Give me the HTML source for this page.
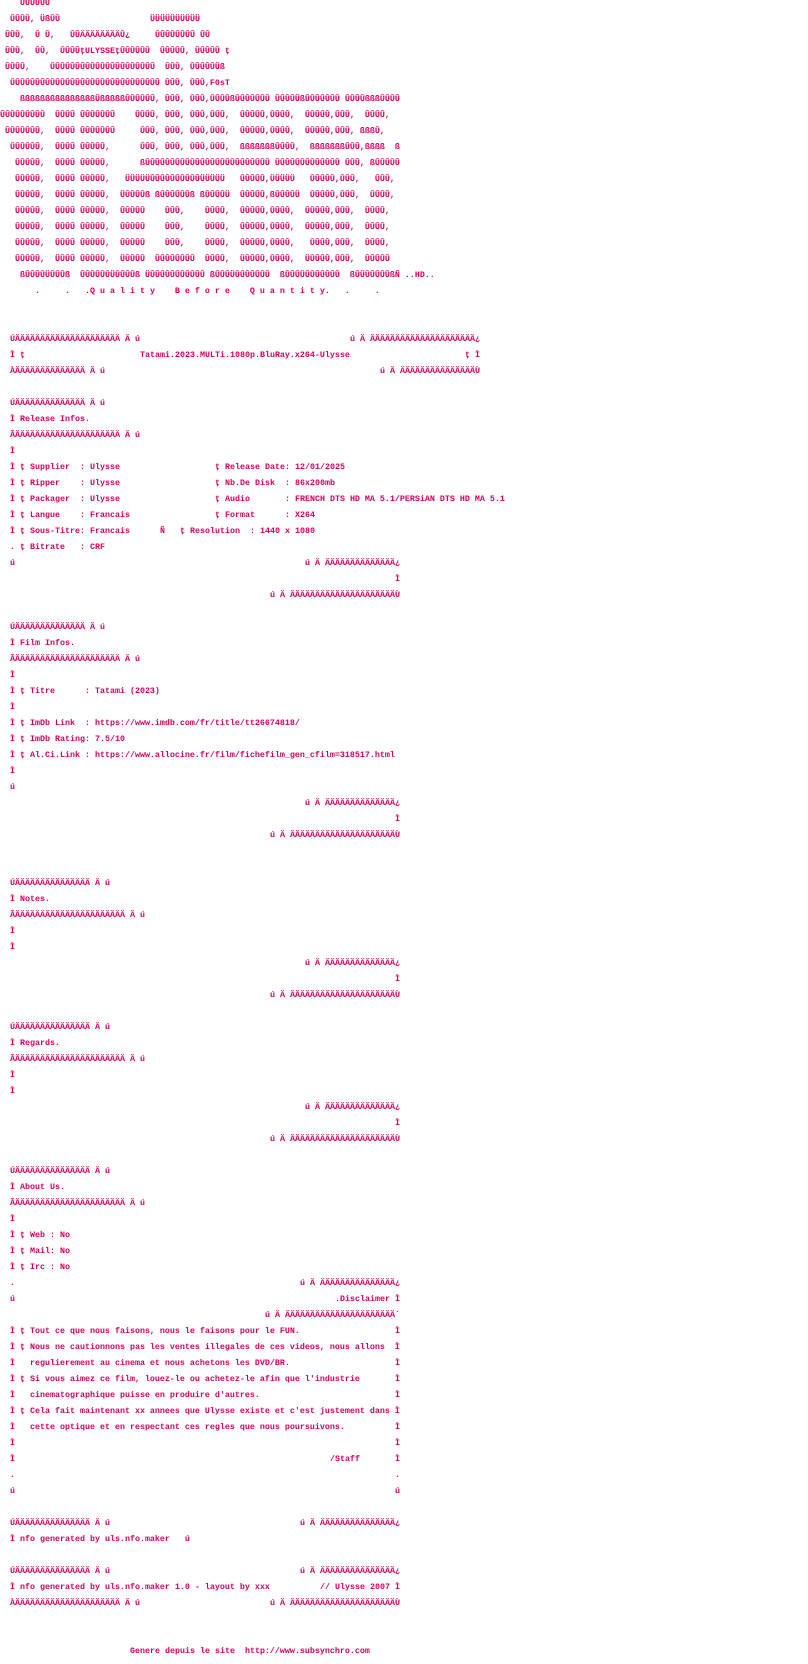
<!DOCTYPE html>
<html><head><meta charset="utf-8">
<style>
html,body{margin:0;padding:0;background:#fff;}
body{width:808px;height:1664px;position:relative;overflow:hidden;}
.l{position:absolute;white-space:pre;font-family:"Liberation Mono",monospace;font-size:8.333px;font-weight:bold;line-height:16px;color:#d3005a;top:calc(var(--r)*16px - 5px);left:calc(var(--c)*5px);}
</style></head><body>
<div class="l" style="--r:0;--c:4">ÛÛÛÛÛÛ</div>
<div class="l" style="--r:1;--c:2">ÛÛÛÛ, ÜßÛÛ</div><div class="l" style="--r:1;--c:30">ÜÜÜÜÜÜÜÜÜÜ</div>
<div class="l" style="--r:2;--c:1">ÛÛÛ,  Û Û,   ÛÛÄÄÄÄÄÄÄÄÛ¿</div><div class="l" style="--r:2;--c:31">ÛÛÛÛÛÛÛÛ ÛÛ</div>
<div class="l" style="--r:3;--c:1">ÛÛÛ,  ÛÛ,  ÛÛÛÛţULYSSEţÛÛÛÛÛÛ  ÛÛÛÛÛ, ÛÛÛÛÛ ţ</div>
<div class="l" style="--r:4;--c:1">ÛÛÛÛ,</div><div class="l" style="--r:4;--c:10">ÛÛÛÛÛÛÛÛÛÛÛÛÛÛÛÛÛÛÛÛÛ  ÛÛÛ, ÛÛÛÛÛÛß</div>
<div class="l" style="--r:5;--c:2">ÛÛÛÛÛÛÛÛÛÛÛÛÛÛÛÛÛÛÛÛÛÛÛÛÛÛÛÛÛÛ ÛÛÛ, ÛÛÛ,F0sT</div>
<div class="l" style="--r:6;--c:4">ßßßßßßßßßßßßßßßÛßßßßßÛÛÛÛÛÛ, ÛÛÛ, ÛÛÛ,ÛÛÛÛßÛÛÛÛÛÛÛ ÛÛÛÛÛßÛÛÛÛÛÛÛ ÛÛÛÛßßßÛÛÛÛ</div>
<div class="l" style="--r:7;--c:0">ÛÛÛÛÛÛÛÛÛ  ÛÛÛÛ ÛÛÛÛÛÛÛ    ÛÛÛÛ, ÛÛÛ, ÛÛÛ,ÛÛÛ,  ÛÛÛÛÛ,ÛÛÛÛ,  ÛÛÛÛÛ,ÛÛÛ,  ÛÛÛÛ,</div>
<div class="l" style="--r:8;--c:1">ÛÛÛÛÛÛÛ,  ÛÛÛÛ ÛÛÛÛÛÛÛ     ÛÛÛ, ÛÛÛ, ÛÛÛ,ÛÛÛ,  ÛÛÛÛÛ,ÛÛÛÛ,  ÛÛÛÛÛ,ÛÛÛ, ßßßÛ,</div>
<div class="l" style="--r:9;--c:2">ÛÛÛÛÛÛ,  ÛÛÛÛ ÛÛÛÛÛ,      ÛÛÛ, ÛÛÛ, ÛÛÛ,ÛÛÛ,  ßßßßßßßÛÛÛÛ,  ßßßßßßßÛÛÛ,ßßßß  ß</div>
<div class="l" style="--r:10;--c:3">ÛÛÛÛÛ,  ÛÛÛÛ ÛÛÛÛÛ,      ßÛÛÛÛÛÛÛÛÛÛÛÛÛÛÛÛÛÛÛÛÛÛÛÛÛ ÛÛÛÛÛÛÛÛÛÛÛÛÛ ÛÛÛ, ßÛÛÛÛÛ</div>
<div class="l" style="--r:11;--c:3">ÛÛÛÛÛ,  ÛÛÛÛ ÛÛÛÛÛ,   ÜÜÜÜÜÛÛÛÛÛÛÛÛÛÛÜÜÜÜÜ   ÛÛÛÛÛ,ÜÜÜÜÜ   ÛÛÛÛÛ,ÛÛÛ,   ÛÛÛ,</div>
<div class="l" style="--r:12;--c:3">ÛÛÛÛÛ,  ÛÛÛÛ ÛÛÛÛÛ,  ÜÛÛÛÛß ßÛÛÛÛÛÛß ßÛÛÛÛÜ  ÛÛÛÛÛ,ßÛÛÛÛÜ  ÛÛÛÛÛ,ÛÛÛ,  ÛÛÛÛ,</div>
<div class="l" style="--r:13;--c:3">ÛÛÛÛÛ,  ÛÛÛÛ ÛÛÛÛÛ,  ÛÛÛÛÛ    ÛÛÛ,    ÛÛÛÛ,  ÛÛÛÛÛ,ÛÛÛÛ,  ÛÛÛÛÛ,ÛÛÛ,  ÛÛÛÛ,</div>
<div class="l" style="--r:14;--c:3">ÛÛÛÛÛ,  ÛÛÛÛ ÛÛÛÛÛ,  ÛÛÛÛÛ    ÛÛÛ,    ÛÛÛÛ,  ÛÛÛÛÛ,ÛÛÛÛ,  ÛÛÛÛÛ,ÛÛÛ,  ÛÛÛÛ,</div>
<div class="l" style="--r:15;--c:3">ÛÛÛÛÛ,  ÛÛÛÛ ÛÛÛÛÛ,  ÛÛÛÛÛ    ÛÛÛ,    ÛÛÛÛ,  ÛÛÛÛÛ,ÛÛÛÛ,   ÛÛÛÛ,ÛÛÛ,  ÛÛÛÛ,</div>
<div class="l" style="--r:16;--c:3">ÛÛÛÛÛ,  ÜÛÛÛ ÛÛÛÛÛ,  ÜÛÛÛÛ  ÛÛÛÛÛÛÛÛ  ÛÛÛÛ,  ÜÛÛÛÛ,ÛÛÛÛ,  ÜÛÛÛÛ,ÛÛÛ,  ÛÛÛÛÛ</div>
<div class="l" style="--r:17;--c:4">ßÛÛÛÛÜÛÛÛß  ÛÛÛÛÛÛÜÛÛÛÛß ÜÛÛÛÛÛÛÛÛÛÛÛ ßÛÛÛÜÛÛÛÛÛÛÛ  ßÛÛÛÜÛÛÛÛÛÛÛ  ßÛÜÛÛÛÛÛßÑ ..HD..</div>
<div class="l" style="--r:18;--c:7">.     .   .Q u a l i t y    B e f o r e    Q u a n t i t y.   .     .</div>

<div class="l" style="--r:21;--c:2">ÚÄÄÄÄÄÄÄÄÄÄÄÄÄÄÄÄÄÄÄÄÄ Ä ú</div><div class="l" style="--r:21;--c:70">ú Ä ÄÄÄÄÄÄÄÄÄÄÄÄÄÄÄÄÄÄÄÄÄ¿</div>
<div class="l" style="--r:22;--c:2">Ì ţ</div><div class="l" style="--r:22;--c:28">Tatami.2023.MULTi.1080p.BluRay.x264-Ulysse</div><div class="l" style="--r:22;--c:93">ţ Ì</div>
<div class="l" style="--r:23;--c:2">ÀÄÄÄÄÄÄÄÄÄÄÄÄÄÄ Ä ú</div><div class="l" style="--r:23;--c:76">ú Ä ÄÄÄÄÄÄÄÄÄÄÄÄÄÄÄÙ</div>

<div class="l" style="--r:25;--c:2">ÚÄÄÄÄÄÄÄÄÄÄÄÄÄÄ Ä ú</div>
<div class="l" style="--r:26;--c:2">Ì Release Infos.</div>
<div class="l" style="--r:27;--c:2">ÃÄÄÄÄÄÄÄÄÄÄÄÄÄÄÄÄÄÄÄÄÄ Ä ú</div>
<div class="l" style="--r:28;--c:2">Ì</div>
<div class="l" style="--r:29;--c:2">Ì ţ Supplier  : Ulysse</div><div class="l" style="--r:29;--c:43">ţ Release Date: 12/01/2025</div>
<div class="l" style="--r:30;--c:2">Ì ţ Ripper    : Ulysse</div><div class="l" style="--r:30;--c:43">ţ Nb.De Disk  : 86x200mb</div>
<div class="l" style="--r:31;--c:2">Ì ţ Packager  : Ulysse</div><div class="l" style="--r:31;--c:43">ţ Audio       : FRENCH DTS HD MA 5.1/PERSiAN DTS HD MA 5.1</div>
<div class="l" style="--r:32;--c:2">Ì ţ Langue    : Francais</div><div class="l" style="--r:32;--c:43">ţ Format      : X264</div>
<div class="l" style="--r:33;--c:2">Ì ţ Sous-Titre: Francais</div><div class="l" style="--r:33;--c:32">Ñ</div><div class="l" style="--r:33;--c:36">ţ Resolution  : 1440 x 1080</div>
<div class="l" style="--r:34;--c:2">. ţ Bitrate   : CRF</div>
<div class="l" style="--r:35;--c:2">ú</div><div class="l" style="--r:35;--c:61">ú Ä ÄÄÄÄÄÄÄÄÄÄÄÄÄÄ¿</div>
<div class="l" style="--r:36;--c:79">Ì</div>
<div class="l" style="--r:37;--c:54">ú Ä ÄÄÄÄÄÄÄÄÄÄÄÄÄÄÄÄÄÄÄÄÄÙ</div>

<div class="l" style="--r:39;--c:2">ÚÄÄÄÄÄÄÄÄÄÄÄÄÄÄ Ä ú</div>
<div class="l" style="--r:40;--c:2">Ì Film Infos.</div>
<div class="l" style="--r:41;--c:2">ÃÄÄÄÄÄÄÄÄÄÄÄÄÄÄÄÄÄÄÄÄÄ Ä ú</div>
<div class="l" style="--r:42;--c:2">Ì</div>
<div class="l" style="--r:43;--c:2">Ì ţ Titre      : Tatami (2023)</div>
<div class="l" style="--r:44;--c:2">Ì</div>
<div class="l" style="--r:45;--c:2">Ì ţ ImDb Link  : https://www.imdb.com/fr/title/tt26674818/</div>
<div class="l" style="--r:46;--c:2">Ì ţ ImDb Rating: 7.5/10</div>
<div class="l" style="--r:47;--c:2">Ì ţ Al.Ci.Link : https://www.allocine.fr/film/fichefilm_gen_cfilm=318517.html</div>
<div class="l" style="--r:48;--c:2">Ì</div>
<div class="l" style="--r:49;--c:2">ú</div>
<div class="l" style="--r:50;--c:61">ú Ä ÄÄÄÄÄÄÄÄÄÄÄÄÄÄ¿</div>
<div class="l" style="--r:51;--c:79">Ì</div>
<div class="l" style="--r:52;--c:54">ú Ä ÄÄÄÄÄÄÄÄÄÄÄÄÄÄÄÄÄÄÄÄÄÙ</div>

<div class="l" style="--r:55;--c:2">ÚÄÄÄÄÄÄÄÄÄÄÄÄÄÄÄ Ä ú</div>
<div class="l" style="--r:56;--c:2">Ì Notes.</div>
<div class="l" style="--r:57;--c:2">ÃÄÄÄÄÄÄÄÄÄÄÄÄÄÄÄÄÄÄÄÄÄÄ Ä ú</div>
<div class="l" style="--r:58;--c:2">Ì</div>
<div class="l" style="--r:59;--c:2">Ì</div>
<div class="l" style="--r:60;--c:61">ú Ä ÄÄÄÄÄÄÄÄÄÄÄÄÄÄ¿</div>
<div class="l" style="--r:61;--c:79">Ì</div>
<div class="l" style="--r:62;--c:54">ú Ä ÄÄÄÄÄÄÄÄÄÄÄÄÄÄÄÄÄÄÄÄÄÙ</div>

<div class="l" style="--r:64;--c:2">ÚÄÄÄÄÄÄÄÄÄÄÄÄÄÄÄ Ä ú</div>
<div class="l" style="--r:65;--c:2">Ì Regards.</div>
<div class="l" style="--r:66;--c:2">ÃÄÄÄÄÄÄÄÄÄÄÄÄÄÄÄÄÄÄÄÄÄÄ Ä ú</div>
<div class="l" style="--r:67;--c:2">Ì</div>
<div class="l" style="--r:68;--c:2">Ì</div>
<div class="l" style="--r:69;--c:61">ú Ä ÄÄÄÄÄÄÄÄÄÄÄÄÄÄ¿</div>
<div class="l" style="--r:70;--c:79">Ì</div>
<div class="l" style="--r:71;--c:54">ú Ä ÄÄÄÄÄÄÄÄÄÄÄÄÄÄÄÄÄÄÄÄÄÙ</div>

<div class="l" style="--r:73;--c:2">ÚÄÄÄÄÄÄÄÄÄÄÄÄÄÄÄ Ä ú</div>
<div class="l" style="--r:74;--c:2">Ì About Us.</div>
<div class="l" style="--r:75;--c:2">ÃÄÄÄÄÄÄÄÄÄÄÄÄÄÄÄÄÄÄÄÄÄÄ Ä ú</div>
<div class="l" style="--r:76;--c:2">Ì</div>
<div class="l" style="--r:77;--c:2">Ì ţ Web : No</div>
<div class="l" style="--r:78;--c:2">Ì ţ Mail: No</div>
<div class="l" style="--r:79;--c:2">Ì ţ Irc : No</div>
<div class="l" style="--r:80;--c:2">.</div><div class="l" style="--r:80;--c:60">ú Ä ÄÄÄÄÄÄÄÄÄÄÄÄÄÄÄ¿</div>
<div class="l" style="--r:81;--c:2">ú</div><div class="l" style="--r:81;--c:67">.Disclaimer Ì</div>
<div class="l" style="--r:82;--c:53">ú Ä ÄÄÄÄÄÄÄÄÄÄÄÄÄÄÄÄÄÄÄÄÄÄ´</div>
<div class="l" style="--r:83;--c:2">Ì ţ Tout ce que nous faisons, nous le faisons pour le FUN.</div><div class="l" style="--r:83;--c:79">Ì</div>
<div class="l" style="--r:84;--c:2">Ì ţ Nous ne cautionnons pas les ventes illegales de ces videos, nous allons  Ì</div>
<div class="l" style="--r:85;--c:2">Ì   regulierement au cinema et nous achetons les DVD/BR.</div><div class="l" style="--r:85;--c:79">Ì</div>
<div class="l" style="--r:86;--c:2">Ì ţ Si vous aimez ce film, louez-le ou achetez-le afin que l'industrie</div><div class="l" style="--r:86;--c:79">Ì</div>
<div class="l" style="--r:87;--c:2">Ì   cinematographique puisse en produire d'autres.</div><div class="l" style="--r:87;--c:79">Ì</div>
<div class="l" style="--r:88;--c:2">Ì ţ Cela fait maintenant xx annees que Ulysse existe et c'est justement dans Ì</div>
<div class="l" style="--r:89;--c:2">Ì   cette optique et en respectant ces regles que nous poursuivons.</div><div class="l" style="--r:89;--c:79">Ì</div>
<div class="l" style="--r:90;--c:2">Ì</div><div class="l" style="--r:90;--c:79">Ì</div>
<div class="l" style="--r:91;--c:2">Ì</div><div class="l" style="--r:91;--c:66">/Staff</div><div class="l" style="--r:91;--c:79">Ì</div>
<div class="l" style="--r:92;--c:2">.</div><div class="l" style="--r:92;--c:79">.</div>
<div class="l" style="--r:93;--c:2">ú</div><div class="l" style="--r:93;--c:79">ú</div>

<div class="l" style="--r:95;--c:2">ÚÄÄÄÄÄÄÄÄÄÄÄÄÄÄÄ Ä ú</div><div class="l" style="--r:95;--c:60">ú Ä ÄÄÄÄÄÄÄÄÄÄÄÄÄÄÄ¿</div>
<div class="l" style="--r:96;--c:2">Ì nfo generated by uls.nfo.maker   ú</div>
<div class="l" style="--r:98;--c:2">ÚÄÄÄÄÄÄÄÄÄÄÄÄÄÄÄ Ä ú</div><div class="l" style="--r:98;--c:60">ú Ä ÄÄÄÄÄÄÄÄÄÄÄÄÄÄÄ¿</div>
<div class="l" style="--r:99;--c:2">Ì nfo generated by uls.nfo.maker 1.0 - layout by xxx</div><div class="l" style="--r:99;--c:64">// Ulysse 2007 Ì</div>
<div class="l" style="--r:100;--c:2">ÀÄÄÄÄÄÄÄÄÄÄÄÄÄÄÄÄÄÄÄÄÄ Ä ú</div><div class="l" style="--r:100;--c:54">ú Ä ÄÄÄÄÄÄÄÄÄÄÄÄÄÄÄÄÄÄÄÄÄÙ</div>

<div class="l" style="--r:103;--c:26">Genere depuis le site  http://www.subsynchro.com</div>
</body></html>
